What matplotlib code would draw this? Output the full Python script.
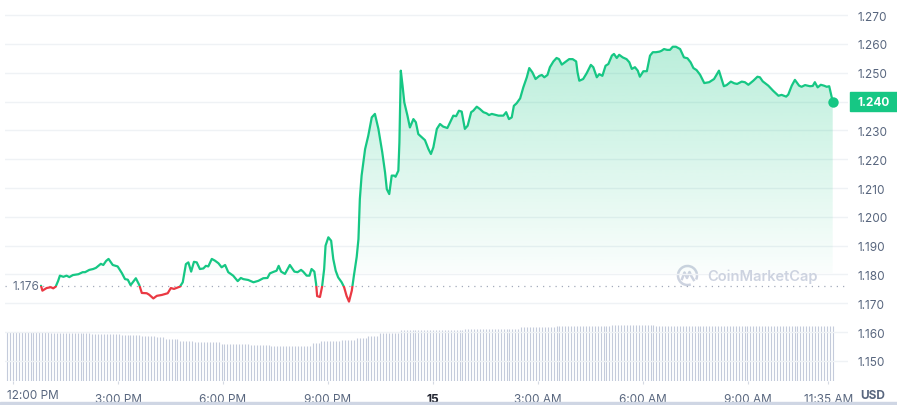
import numpy as np
import matplotlib
matplotlib.use("Agg")
import matplotlib.pyplot as plt
from matplotlib.patches import Rectangle, Polygon, Arc
from matplotlib.transforms import blended_transform_factory

plt.rcParams["font.family"] = ["Inter", "DejaVu Sans"]

# ─── Colours ──────────────────────────────────────────────────────────────────
GREEN = "#16c784"
RED = "#ea3943"
TXT = "#58667e"
GRID = "#eff2f5"
VOL = "#c4cbdb"
MARK = "#cdd3e0"

# ─── Data (hours after 12:00 PM, price in USD) ────────────────────────────────
hours = [0.80, 0.84, 0.96, 1.08, 1.15, 1.22, 1.29, 1.34, 1.44, 1.53, 1.61, 1.71, 1.87, 1.99, 2.06,
         2.18, 2.29, 2.37, 2.51, 2.58, 2.66, 2.73, 2.85, 2.99, 3.11, 3.20, 3.28, 3.36, 3.51, 3.61,
         3.68, 3.82, 3.89, 4.01, 4.11, 4.25, 4.42, 4.51, 4.60, 4.77, 4.85,
         4.94, 5.01, 5.09, 5.17, 5.25, 5.34, 5.44, 5.51, 5.58, 5.68,
         5.77, 5.87, 5.96, 6.06, 6.15, 6.29, 6.42, 6.51, 6.58, 6.72,
         6.87, 7.01, 7.15, 7.27, 7.34, 7.46, 7.53, 7.59, 7.66, 7.77,
         7.91, 8.04, 8.13, 8.23, 8.29, 8.39, 8.47, 8.53, 8.61, 8.66,
         8.69, 8.77, 8.83, 8.89, 8.93, 9.01, 9.09, 9.15, 9.22, 9.29,
         9.39, 9.46, 9.53, 9.60, 9.68, 9.74, 9.82, 9.87, 9.91, 9.96,
         10.06, 10.15, 10.25, 10.34, 10.44, 10.55, 10.63, 10.68, 10.75, 10.82,
         10.89, 10.93, 11.01, 11.04, 11.08, 11.13, 11.18, 11.27, 11.34, 11.44,
         11.51, 11.58, 11.68, 11.77, 11.87, 11.94, 12.01, 12.11, 12.20, 12.29,
         12.41, 12.49, 12.58, 12.66, 12.74, 12.82, 12.91, 12.99, 13.09, 13.15,
         13.25, 13.34, 13.44, 13.53, 13.60, 13.68, 13.77, 13.87, 14.01, 14.09,
         14.17, 14.25, 14.31, 14.39, 14.49, 14.58, 14.68, 14.75, 14.84, 14.93,
         15.04, 15.11, 15.18, 15.27, 15.34, 15.44, 15.53, 15.60, 15.68, 15.77,
         15.89, 15.99, 16.09, 16.13, 16.18, 16.29, 16.39, 16.51, 16.58, 16.68,
         16.75, 16.84, 16.93, 17.01, 17.11, 17.17, 17.25, 17.32, 17.42, 17.53,
         17.61, 17.68, 17.77, 17.85, 17.91, 18.01, 18.11, 18.20, 18.28, 18.37,
         18.47, 18.53, 18.60, 18.69, 18.77, 18.85, 18.94, 19.06, 19.17, 19.27,
         19.36, 19.44, 19.53, 19.63, 19.75, 19.89, 20.03, 20.17, 20.31, 20.39,
         20.51, 20.61, 20.69, 20.82, 20.91, 21.01, 21.15, 21.27, 21.34, 21.42,
         21.58, 21.72, 21.87, 21.96, 22.09, 22.15, 22.25, 22.34, 22.46, 22.53,
         22.63, 22.77, 22.85, 22.91, 22.99, 23.08, 23.17, 23.25, 23.32, 23.42]

prices = [1.1761, 1.1744, 1.1753, 1.1756, 1.1752, 1.1758, 1.1778, 1.1796, 1.1792, 1.1796,
          1.1791, 1.1798, 1.1801, 1.1808, 1.1808, 1.1816, 1.1819, 1.1823, 1.1837, 1.1833,
          1.1847, 1.1854, 1.1833, 1.1828, 1.1805, 1.1784, 1.1782, 1.1763, 1.1787, 1.1763,
          1.1736, 1.1735, 1.1730, 1.1717, 1.1726, 1.1729, 1.1735, 1.1753, 1.1750, 1.1758, 1.1773,
          1.1836, 1.1842, 1.1810, 1.1844, 1.1842, 1.1819, 1.1821, 1.1830, 1.1828, 1.1854,
          1.1848, 1.1839, 1.1825, 1.1833, 1.1808, 1.1796, 1.1777, 1.1788, 1.1784, 1.1781,
          1.1773, 1.1778, 1.1787, 1.1788, 1.1804, 1.1810, 1.1813, 1.1830, 1.1810, 1.1802,
          1.1833, 1.1810, 1.1808, 1.1816, 1.1810, 1.1796, 1.1796, 1.1819, 1.1810, 1.1767,
          1.1725, 1.1722, 1.1757, 1.1819, 1.1900, 1.1929, 1.1917, 1.1854, 1.1813, 1.1790,
          1.1773, 1.1756, 1.1726, 1.1706, 1.1744, 1.1796, 1.1861, 1.1923, 1.2062, 1.2143,
          1.2235, 1.2281, 1.2345, 1.2357, 1.2305, 1.2224, 1.2154, 1.2096, 1.2079, 1.2143,
          1.2143, 1.2139, 1.2160, 1.2258, 1.2507, 1.2455, 1.2397, 1.2351, 1.2310, 1.2339,
          1.2328, 1.2287, 1.2276, 1.2266, 1.2235, 1.2218, 1.2241, 1.2305, 1.2322, 1.2313,
          1.2308, 1.2328, 1.2351, 1.2349, 1.2368, 1.2365, 1.2305, 1.2316, 1.2363, 1.2368,
          1.2382, 1.2374, 1.2363, 1.2359, 1.2353, 1.2357, 1.2354, 1.2351, 1.2351, 1.2363,
          1.2339, 1.2345, 1.2385, 1.2394, 1.2411, 1.2449, 1.2484, 1.2516, 1.2501, 1.2478,
          1.2489, 1.2492, 1.2484, 1.2492, 1.2519, 1.2539, 1.2551, 1.2547, 1.2528, 1.2536,
          1.2547, 1.2547, 1.2539, 1.2501, 1.2472, 1.2478, 1.2498, 1.2527, 1.2519, 1.2484,
          1.2495, 1.2489, 1.2524, 1.2530, 1.2559, 1.2565, 1.2551, 1.2562, 1.2553, 1.2547,
          1.2536, 1.2513, 1.2519, 1.2507, 1.2486, 1.2505, 1.2505, 1.2559, 1.2571, 1.2571,
          1.2573, 1.2576, 1.2582, 1.2579, 1.2579, 1.2590, 1.2590, 1.2582, 1.2553, 1.2550,
          1.2536, 1.2516, 1.2509, 1.2493, 1.2464, 1.2467, 1.2478, 1.2507, 1.2453, 1.2457,
          1.2469, 1.2463, 1.2461, 1.2469, 1.2467, 1.2458, 1.2472, 1.2486, 1.2484, 1.2470,
          1.2455, 1.2437, 1.2420, 1.2423, 1.2417, 1.2424, 1.2455, 1.2475, 1.2455, 1.2451,
          1.2457, 1.2453, 1.2454, 1.2467, 1.2449, 1.2458, 1.2455, 1.2451, 1.2453, 1.2400]

open_price = 1.176
last_price = 1.240

# volume (relative units), stored as runs: level, number of 5-min bars
vol_levels = [4.87, 4.77, 4.70, 4.60, 4.50, 4.37, 4.20, 4.03, 3.87, 3.70, 3.60, 3.50,
              3.80, 4.00, 4.13, 4.27, 4.53, 4.77, 5.10, 5.20, 5.37, 5.47, 5.60, 5.47]
vol_counts = [15, 14, 10, 7, 5, 3, 5, 5, 9, 10, 7, 14,
              3, 7, 5, 4, 4, 7, 22, 19, 12, 19, 15, 61]
vol_first_hour = -0.17
vol_last_hour = 23.42

x_ticks = [0, 3, 6, 9, 12, 15, 18, 21, 23.29]
x_labels = ["12:00 PM", "3:00 PM", "6:00 PM", "9:00 PM", "15",
            "3:00 AM", "6:00 AM", "9:00 AM", "11:35 AM"]
y_ticks = [1.150, 1.160, 1.170, 1.180, 1.190, 1.200, 1.210,
           1.220, 1.230, 1.240, 1.250, 1.260, 1.270]

FS = 8.5

# ─── Figure ───────────────────────────────────────────────────────────────────
W, H = 897, 406
fig = plt.figure(figsize=(W / 100, H / 100), dpi=100)
rect = [5 / W, 24 / H, 843 / W, 377 / H]
XLIM = (-0.2286, 23.857)

vax = fig.add_axes(rect)
ax = fig.add_axes(rect)
vax.set_zorder(0)
ax.set_zorder(1)
ax.patch.set_visible(False)

# volume bars
vol = np.repeat(vol_levels, vol_counts)
vt = np.linspace(vol_first_hour, vol_last_hour, len(vol))
vax.vlines(vt, 0, vol, color=VOL, lw=0.8)
vax.set_xlim(*XLIM)
vax.set_ylim(0, 37.7)
vax.axis("off")

ax.set_xlim(*XLIM)
ax.set_ylim(1.14306, 1.27382)
for s in ax.spines.values():
    s.set_visible(False)
ax.grid(axis="y", color=GRID, lw=1)
ax.set_axisbelow(True)

t = np.array(hours)
p = np.array(prices)

# gradient fill under the line
fill_base, grad_top = 1.1805, 1.2600
upper = np.maximum(p, fill_base)
verts = [(t[0], fill_base)] + list(zip(t, upper)) + [(t[-1], fill_base)]
clip = Polygon(verts, closed=True, facecolor="none", edgecolor="none", transform=ax.transData)
ax.add_patch(clip)
grad = np.zeros((256, 1, 4))
grad[..., :3] = matplotlib.colors.to_rgb(GREEN)
grad[:, 0, 3] = np.linspace(0.02, 0.30, 256)
im = ax.imshow(grad, extent=[t[0], t[-1], fill_base, grad_top], origin="lower",
               aspect="auto", zorder=2, interpolation="bilinear")
im.set_clip_path(clip)

# opening price reference
ax.axhline(open_price, color="#a3aabb", lw=0.9, ls=(0, (1, 4)), zorder=3)

# price line: green above opening price, red below
big = 100
g, = ax.plot(t, p, color=GREEN, lw=1.6, solid_joinstyle="round", solid_capstyle="round", zorder=4)
g.set_clip_path(Rectangle((-big, open_price), 2 * big, big, transform=ax.transData))
r, = ax.plot(t, p, color=RED, lw=1.6, solid_joinstyle="round", solid_capstyle="round", zorder=4)
r.set_clip_path(Rectangle((-big, open_price - big), 2 * big, big, transform=ax.transData))
ax.plot(t[-1], p[-1], "o", ms=7.5, color=GREEN, mec="none", zorder=5)

bt = blended_transform_factory(ax.transAxes, ax.transData)
ax.text(7 / 843, open_price, "1.176", transform=bt, ha="left", va="center",
        fontsize=FS, color="#616e85", zorder=6,
        bbox=dict(facecolor="white", edgecolor="none", pad=0.8))

# axes ticks
ax.yaxis.tick_right()
ax.set_yticks(y_ticks, [f"{v:.3f}" if abs(v - last_price) > 1e-9 else "" for v in y_ticks])
ax.tick_params(axis="y", length=0, pad=7, labelsize=FS, labelcolor=TXT)
ax.set_xticks(x_ticks, [""] + x_labels[1:])
ax.tick_params(axis="x", length=2.5, color="#d5dae3", pad=6, labelsize=FS, labelcolor=TXT)
for lab in ax.get_xticklabels():
    if lab.get_text() == "15":
        lab.set_fontweight("bold")
        lab.set_color("#222531")
fig.text(7 / W, 1 - 396 / H, x_labels[0], ha="left", va="center", fontsize=FS, color=TXT)
fig.text(873 / W, 1 - 396 / H, "USD", ha="center", va="center", fontsize=FS,
         fontweight="bold", color=TXT)

# last price tag
fig.canvas.draw()
y_disp = ax.transData.transform((0, last_price))[1]
fig.patches.append(Rectangle((850 / W, (y_disp - 9.5) / H), 47 / W, 19 / H,
                             transform=fig.transFigure, color=GREEN, zorder=5))
fig.text(857 / W, y_disp / H, f"{last_price:.3f}", ha="left", va="center", fontsize=FS,
         fontweight="bold", color="white", zorder=6)

# watermark
fig.text(707 / W, 1 - 277 / H, "CoinMarketCap", ha="left", va="center", fontsize=10.5,
         fontweight="semibold", color=MARK)
lax = fig.add_axes([676 / W, (406 - 288) / H, 23 / W, 23 / H])
lax.set_xlim(-1.15, 1.15)
lax.set_ylim(-1.15, 1.15)
lax.axis("off")
lax.add_patch(Arc((0, 0), 1.9, 1.9, theta1=-25, theta2=290, color=MARK, lw=1.8))
lax.plot([-0.55, -0.3, -0.05, 0.2, 0.38, 0.62], [-0.35, 0.3, -0.25, 0.35, -0.05, -0.45],
         color=MARK, lw=1.8, solid_joinstyle="round")

# bottom band
fig.patches.append(Rectangle((0, 0), 1, 3 / H, transform=fig.transFigure, color="#cfd6e4"))

fig.savefig("out.png", dpi=100)
